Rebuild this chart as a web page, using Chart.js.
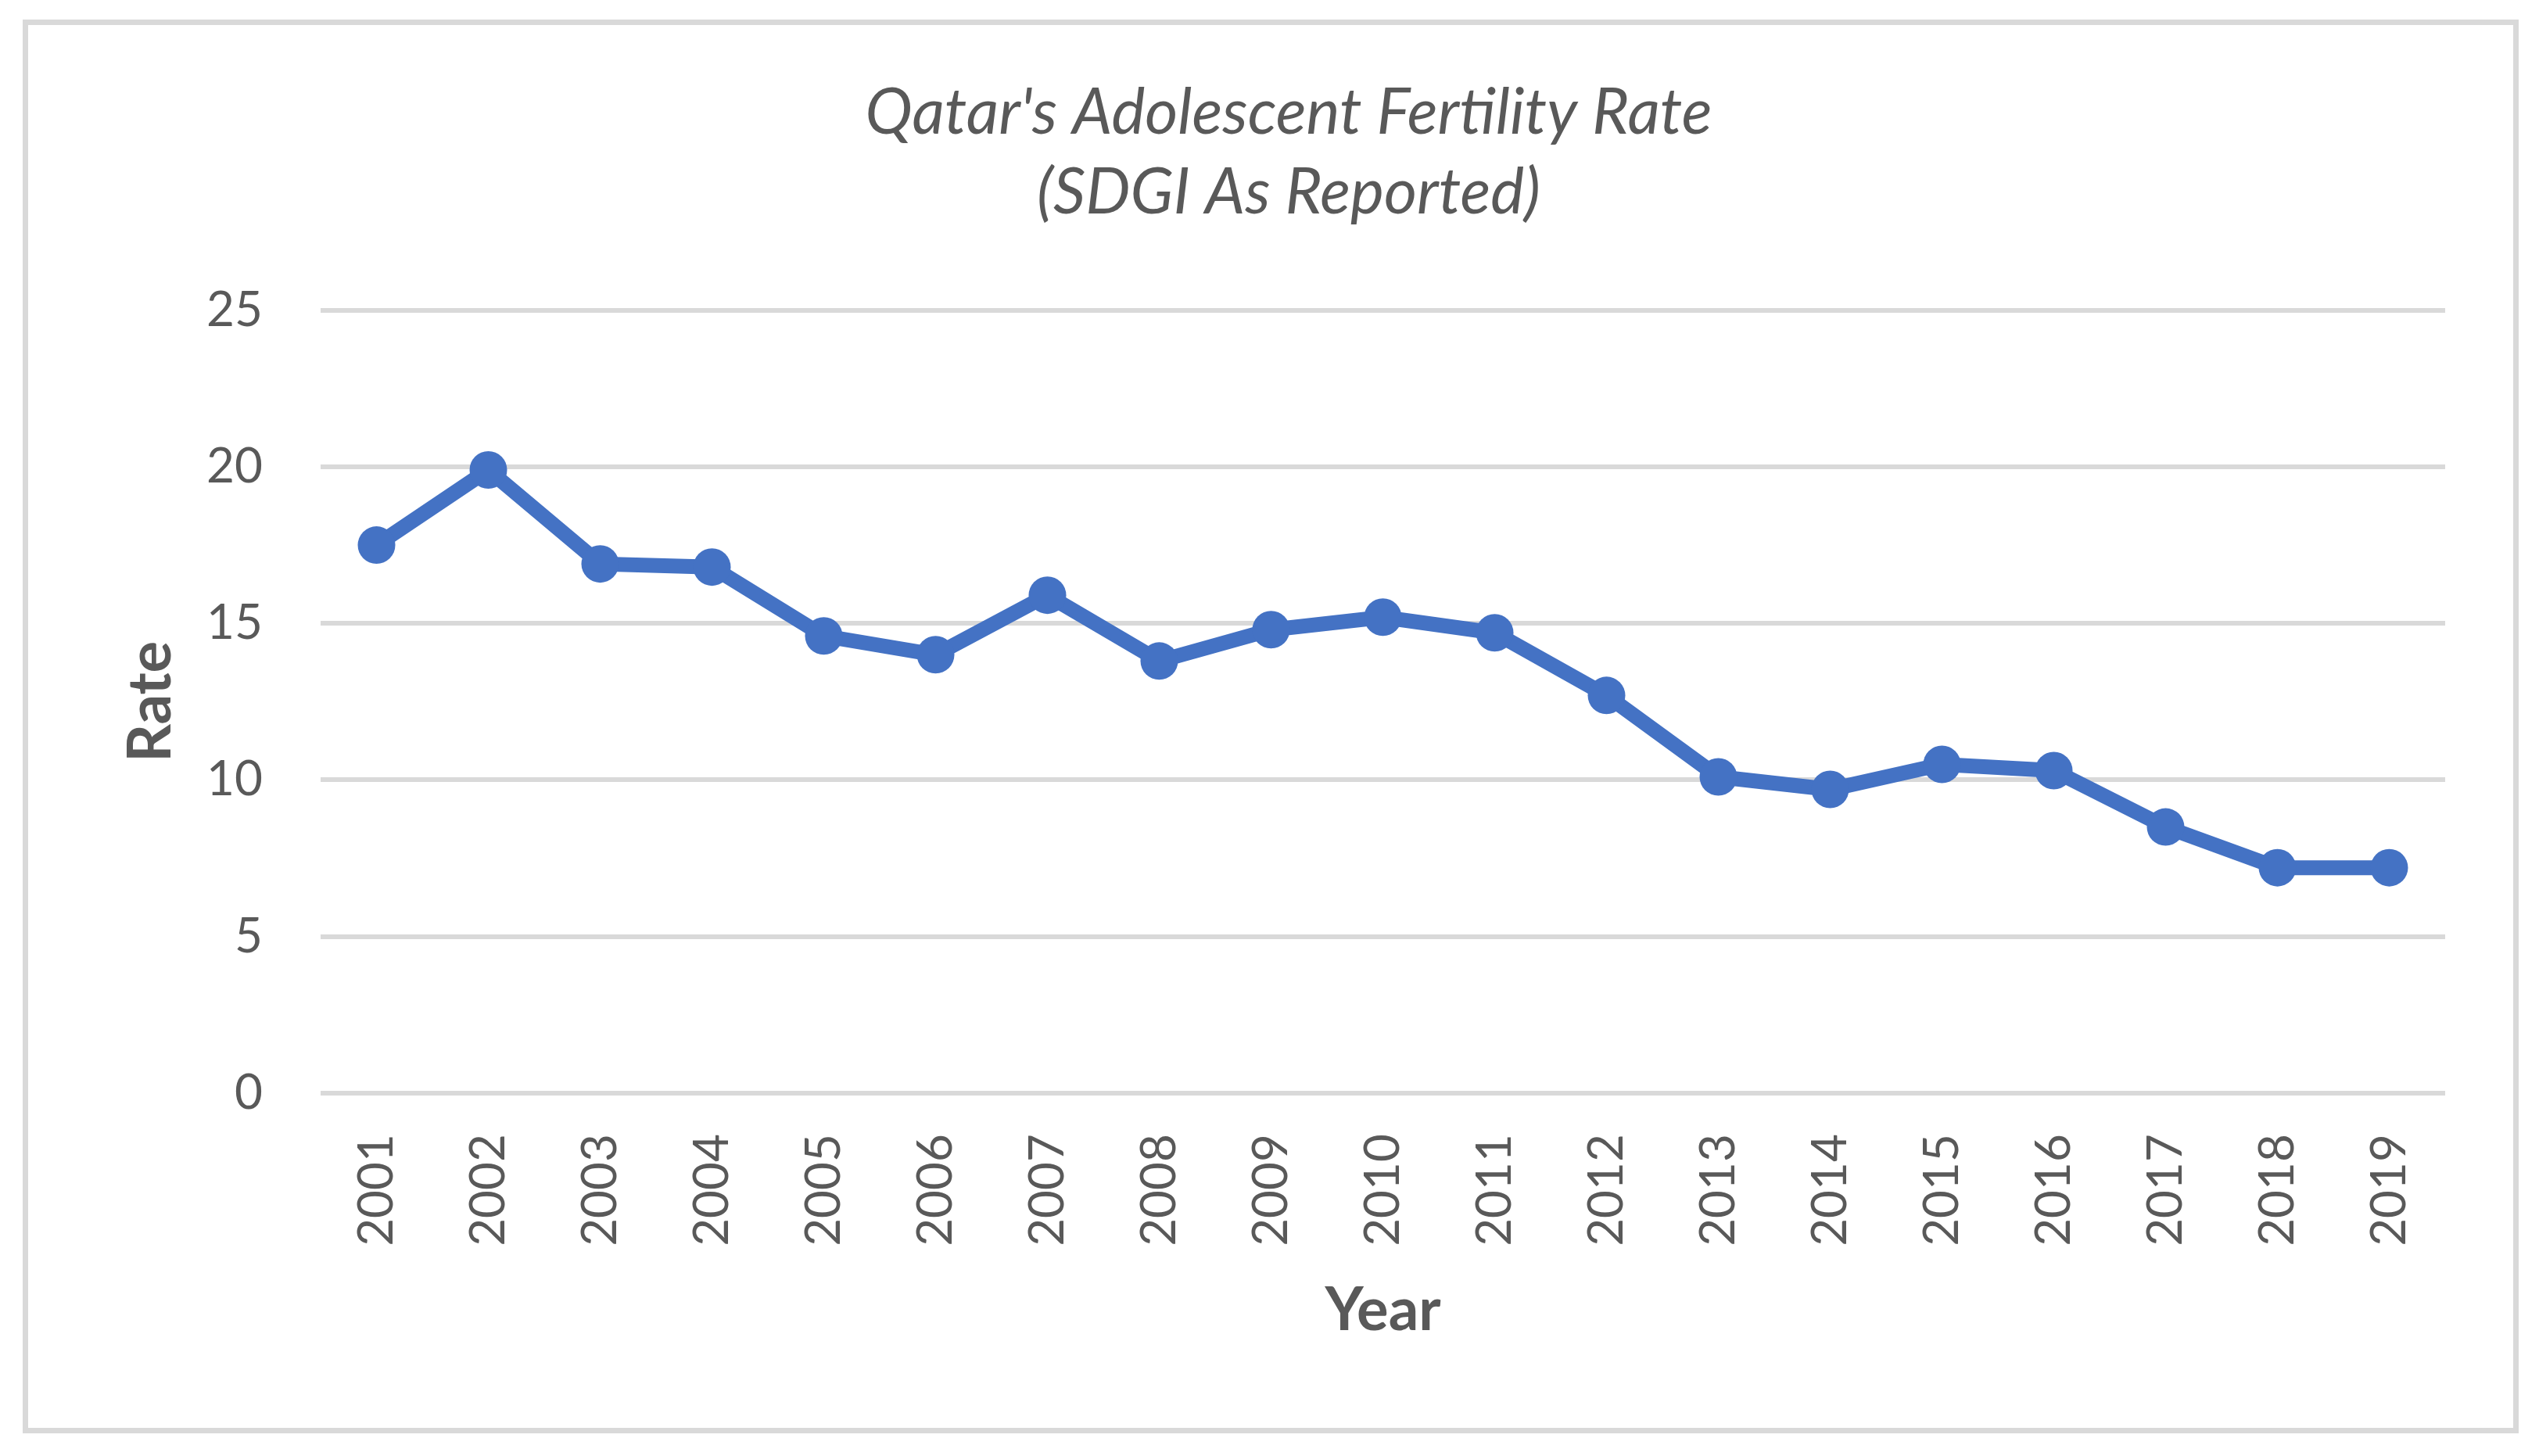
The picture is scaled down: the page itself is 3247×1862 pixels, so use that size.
<!DOCTYPE html>
<html>
<head>
<meta charset="utf-8">
<script src="https://cdn.jsdelivr.net/npm/chart.js@4.4.1/dist/chart.umd.min.js"></script>
<style>
	html, body { margin: 0; padding: 0; background: #fff; }
	#wrap { position: relative; width: 3247px; height: 1862px; }
	#frame {
		position: absolute; left: 29px; top: 25px;
		width: 3178px; height: 1794px;
		border: 7px solid #d9d9d9;
	}
	#chart { position: absolute; left: 0; top: 0; }
</style>
</head>
<body>
<div id="wrap">
	<div id="frame"></div>
	<canvas id="chart" width="3247" height="1862"></canvas>
</div>
<script>
const years = ['2001', '2002', '2003', '2004', '2005', '2006', '2007', '2008', '2009', '2010',
	'2011', '2012', '2013', '2014', '2015', '2016', '2017', '2018', '2019'];
const rates = [17.5, 19.9, 16.9, 16.8, 14.6, 14.0, 15.9, 13.8, 14.8, 15.2,
	14.7, 12.7, 10.1, 9.7, 10.5, 10.3, 8.5, 7.2, 7.2];
const titleLines = ["Qatar's Adolescent Fertility Rate", '(SDGI As Reported)'];

const textColor = '#595959';
const lineColor = '#4472c4';
const gridColor = '#d9d9d9';
const fontName = 'Lato';

// the title is centred a bit left of the plot, so the left padding is wider
const padLeft = 169;
const axisTitleSize = 76;

const config = {
	type: 'line',
	data: {
		labels: years,
		datasets: [
			{
				data: rates,
				borderColor: lineColor,
				backgroundColor: lineColor,
				borderWidth: 19,
				pointRadius: 24,
				pointBorderWidth: 0,
				pointBackgroundColor: lineColor,
				tension: 0,
			},
		],
	},
	options: {
		responsive: false,
		animation: false,
		devicePixelRatio: 1,
		layout: { padding: { left: padLeft, right: 120, top: 0, bottom: 0 } },
		plugins: {
			legend: { display: false },
			tooltip: { enabled: false },
			title: {
				display: true,
				text: titleLines,
				color: textColor,
				font: { family: fontName, size: 81, style: 'italic', weight: 'normal', lineHeight: 1.27 },
				padding: { top: 93, bottom: 98 },
			},
		},
		scales: {
			x: {
				offset: true,
				grid: { display: false, drawTicks: false },
				border: { display: false },
				ticks: {
					color: textColor,
					font: { family: fontName, size: 62 },
					minRotation: 90,
					maxRotation: 90,
					padding: 52,
				},
				title: {
					display: true,
					text: 'Year',
					color: textColor,
					font: { family: fontName, size: axisTitleSize, weight: 'bold', lineHeight: 1.2 },
					padding: { top: 0, bottom: 1862 - 1676 - axisTitleSize * 0.6 },
				},
				afterFit(scale) {
					scale.height = 464;
				},
			},
			y: {
				min: 0,
				max: 25,
				ticks: {
					stepSize: 5,
					color: textColor,
					font: { family: fontName, size: 62 },
					padding: 74,
				},
				grid: { color: gridColor, lineWidth: 6, drawTicks: false },
				border: { display: false },
				title: {
					display: true,
					text: 'Rate',
					color: textColor,
					font: { family: fontName, size: axisTitleSize, weight: 'bold', lineHeight: 1.2 },
					padding: { top: 193 - axisTitleSize * 0.6 - padLeft, bottom: 0 },
				},
				afterFit(scale) {
					scale.width = 410 - padLeft;
				},
			},
		},
	},
};

new Chart(document.getElementById('chart'), config);
</script>
</body>
</html>
